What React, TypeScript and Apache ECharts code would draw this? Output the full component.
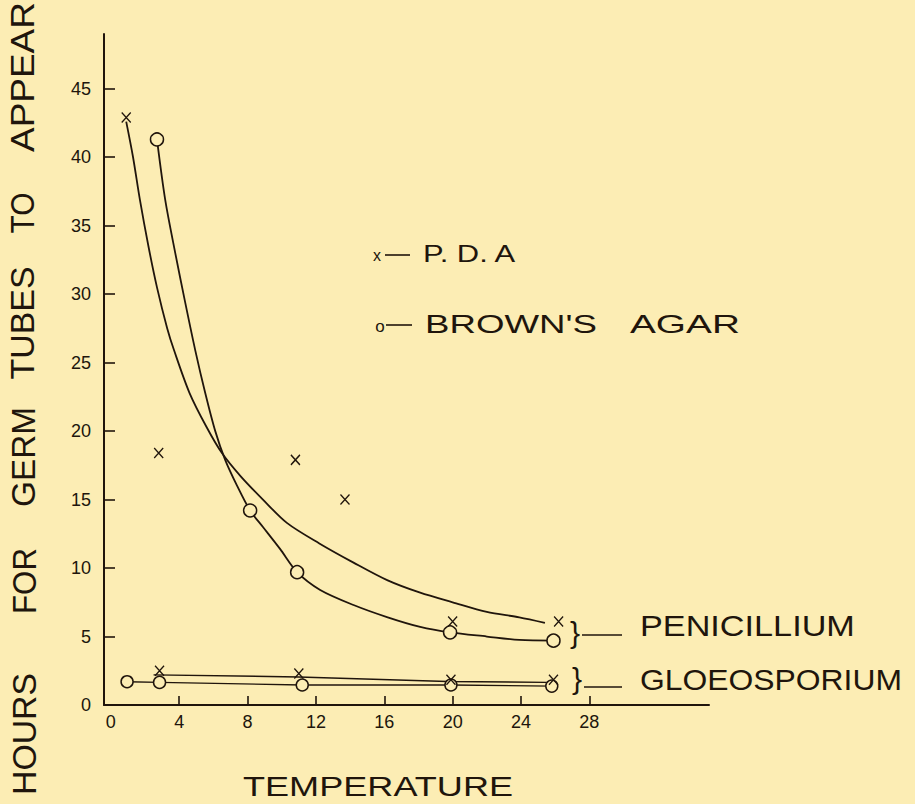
import React, { useEffect, useRef } from "react";
import * as echarts from "echarts";

// ---- data ----
const xLabelValues = [0, 4, 8, 12, 16, 20, 24, 28];
const xTickValues = [4, 8, 12, 16, 20, 24, 28];
const yLabelValues = [0, 5, 10, 15, 20, 25, 30, 35, 40, 45];
const yTickValues = [5, 10, 15, 20, 25, 30, 35, 40, 45];

// Penicillium on P.D.A (x marks) and its drawn fitted curve
const penPdaPoints = [[0.9, 42.9], [2.8, 18.4], [10.8, 17.9], [13.7, 15.0], [20.0, 6.1], [26.2, 6.1]];
const penPdaCurve = [
  [0.9, 42.6], [1.3, 40.0], [1.7, 36.9], [2.2, 33.5], [2.7, 30.5], [3.3, 27.5], [3.7, 25.9],
  [4.6, 22.8], [5.6, 20.3], [6.5, 18.4], [7.6, 16.7], [8.9, 15.0], [10.3, 13.3], [12.2, 11.8],
  [14.2, 10.4], [16.2, 9.1], [18.1, 8.2], [20.0, 7.5], [22.0, 6.8], [23.9, 6.4], [25.4, 6.0],
];

// Penicillium on Brown's agar (circles) and its drawn curve
const penBrownPoints = [[2.7, 41.3], [8.15, 14.2], [10.9, 9.7], [19.85, 5.3], [25.9, 4.7]];
const penBrownCurve = [
  [2.7, 41.3], [3.18, 36.9], [3.77, 33.0], [4.35, 29.4], [4.94, 25.9], [5.52, 22.8],
  [6.11, 20.0], [6.69, 17.9], [7.39, 16.0], [8.15, 14.2], [8.9, 13.0], [9.9, 11.4], [10.9, 9.7],
  [12.25, 8.4], [14.2, 7.3], [16.2, 6.4], [18.1, 5.7], [19.85, 5.3], [22.0, 5.0], [23.9, 4.75], [25.9, 4.7],
];

// Gloeosporium on P.D.A (x marks) and its line
const gloPdaPoints = [[2.85, 2.5], [11.0, 2.3], [19.9, 1.85], [25.9, 1.85]];
const gloPdaLine = [[2.5, 2.2], [11.0, 2.05], [19.7, 1.72], [25.5, 1.65]];

// Gloeosporium on Brown's agar (circles, joined)
const gloBrownPoints = [[0.95, 1.7], [2.85, 1.65], [11.2, 1.46], [19.9, 1.46], [25.8, 1.38]];

const INK = "#20150c";
const BG = "#fcedb4";
const FONT = "Liberation Sans";

const X_MARK = "path://M0,0L10,11M10,0L0,11";

function measure(text: string, size: number): number {
  const c = document.createElement("canvas").getContext("2d");
  if (!c) return text.length * size * 0.6;
  c.font = `${size}px "${FONT}"`;
  return c.measureText(text).width;
}

// text fitted to a target width
function fitText(text: string, left: number, cy: number, width: number, size: number) {
  const w = measure(text, size);
  return {
    type: "text",
    x: left,
    y: cy,
    scaleX: width / w,
    silent: true,
    style: {
      text,
      fontSize: size,
      fontFamily: FONT,
      fill: INK,
      align: "left",
      verticalAlign: "middle",
      textAlign: "left",
      textVerticalAlign: "middle",
    },
  };
}

function vertWord(text: string, cx: number, cy: number, length: number, size: number) {
  const w = measure(text, size);
  return {
    type: "text",
    x: cx,
    y: cy,
    rotation: Math.PI / 2,
    scaleX: length / w,
    silent: true,
    style: {
      text,
      fontSize: size,
      fontFamily: FONT,
      fill: INK,
      align: "center",
      verticalAlign: "middle",
      textAlign: "center",
      textVerticalAlign: "middle",
    },
  };
}

function plainText(text: string, cx: number, cy: number, size: number) {
  return {
    type: "text",
    x: cx,
    y: cy,
    silent: true,
    style: {
      text,
      fontSize: size,
      fontFamily: FONT,
      fill: INK,
      align: "center",
      verticalAlign: "middle",
      textAlign: "center",
      textVerticalAlign: "middle",
    },
  };
}

function hLine(x1: number, x2: number, y: number) {
  return {
    type: "line",
    silent: true,
    shape: { x1, y1: y, x2, y2: y },
    style: { stroke: INK, lineWidth: 1.6 },
  };
}

export default function App() {
  const ref = useRef<HTMLDivElement>(null);

  useEffect(() => {
    if (!ref.current) return;
    const chart = echarts.init(ref.current, undefined, { renderer: "svg" });

    const axisLabelStyle = { color: INK, fontSize: 18, fontFamily: FONT };

    chart.setOption({
      animation: false,
      backgroundColor: BG,
      grid: { left: 104, top: 34, width: 605, height: 671, containLabel: false },
      xAxis: {
        type: "value",
        min: -0.4,
        max: 35,
        axisLine: { show: true, onZero: false, lineStyle: { color: INK, width: 2 } },
        axisTick: { show: true, inside: true, length: 9, customValues: xTickValues, lineStyle: { color: INK, width: 1.6 } },
        axisLabel: { ...axisLabelStyle, margin: 8, customValues: xLabelValues },
        splitLine: { show: false },
      },
      yAxis: {
        type: "value",
        min: 0,
        max: 49,
        axisLine: { show: true, onZero: false, lineStyle: { color: INK, width: 2 } },
        axisTick: { show: true, inside: true, length: 11, customValues: yTickValues, lineStyle: { color: INK, width: 1.6 } },
        axisLabel: { ...axisLabelStyle, margin: 13, customValues: yLabelValues },
        splitLine: { show: false },
      },
      series: [
        {
          name: "Penicillium P.D.A curve",
          type: "line",
          data: penPdaCurve,
          smooth: 0.3,
          showSymbol: false,
          symbol: "none",
          lineStyle: { color: INK, width: 1.8 },
          z: 2,
        },
        {
          name: "Penicillium Brown's curve",
          type: "line",
          data: penBrownCurve,
          smooth: 0.3,
          showSymbol: false,
          symbol: "none",
          lineStyle: { color: INK, width: 1.8 },
          z: 2,
        },
        {
          name: "Gloeosporium P.D.A line",
          type: "line",
          data: gloPdaLine,
          showSymbol: false,
          symbol: "none",
          lineStyle: { color: INK, width: 1.4 },
          z: 2,
        },
        {
          name: "Gloeosporium Brown's",
          type: "line",
          data: gloBrownPoints,
          symbol: "circle",
          symbolSize: 12,
          showSymbol: true,
          itemStyle: { color: BG, borderColor: INK, borderWidth: 1.5 },
          lineStyle: { color: INK, width: 1.4 },
          z: 3,
        },
        {
          name: "Penicillium Brown's",
          type: "scatter",
          data: penBrownPoints,
          symbol: "circle",
          symbolSize: 13,
          itemStyle: { color: BG, borderColor: INK, borderWidth: 1.5, opacity: 1 },
          z: 4,
        },
        {
          name: "Penicillium P.D.A",
          type: "scatter",
          data: penPdaPoints,
          symbol: X_MARK,
          symbolSize: [9, 10],
          itemStyle: { color: "transparent", borderColor: INK, borderWidth: 1.4, opacity: 1 },
          z: 5,
        },
        {
          name: "Gloeosporium P.D.A",
          type: "scatter",
          data: gloPdaPoints,
          symbol: X_MARK,
          symbolSize: [9, 10],
          itemStyle: { color: "transparent", borderColor: INK, borderWidth: 1.4, opacity: 1 },
          z: 5,
        },
      ],
      graphic: [
        // y-axis title, word by word
        vertWord("HOURS", 25, 734, 122, 33),
        vertWord("FOR", 25, 581, 66, 33),
        vertWord("GERM", 24, 457, 100, 33),
        vertWord("TUBES", 23, 323, 113, 33),
        vertWord("TO", 23, 213, 41, 33),
        vertWord("APPEAR", 22, 77, 150, 33),
        // x-axis title
        fitText("TEMPERATURE", 243, 786, 270, 28),
        // legend
        plainText("x", 377, 255, 16),
        hLine(385, 410, 255),
        fitText("P. D. A", 423, 254, 94, 24),
        plainText("o", 380, 326, 17),
        hLine(386, 412, 325),
        fitText("BROWN'S", 425, 324, 172, 26),
        fitText("AGAR", 630, 324, 110, 26),
        // right labels
        plainText("}", 575, 632, 30),
        hLine(582, 622, 635),
        fitText("PENICILLIUM", 640, 626, 215, 30),
        plainText("}", 577, 678, 30),
        hLine(584, 622, 687),
        fitText("GLOEOSPORIUM", 640, 680, 262, 30),
      ],
    });

    return () => chart.dispose();
  }, []);

  return (
    <div
      ref={ref}
      style={{ position: "fixed", left: 0, top: 0, width: 915, height: 804, background: BG }}
    />
  );
}
